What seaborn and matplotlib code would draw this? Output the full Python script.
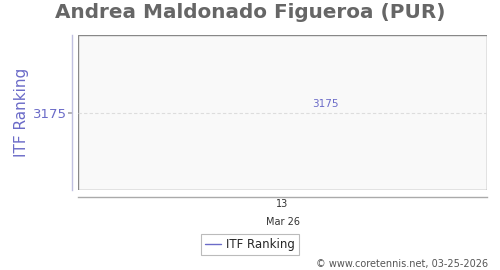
import matplotlib
matplotlib.use("Agg")
import matplotlib.pyplot as plt
import seaborn as sns
import pandas as pd
from matplotlib.patches import Rectangle
from matplotlib.lines import Line2D

dates = ["2026-03-13"]
ranking = [3175]
x_tick_labels = ["13\n\nMar 26"]
series_name = "ITF Ranking"
title = "Andrea Maldonado Figueroa (PUR)"
footer = "© www.coretennis.net, 03-25-2026"

df = pd.DataFrame({"date": pd.to_datetime(dates), "rank": ranking})

sns.set_theme(style="white")
plt.rcParams['font.family'] = ['DejaVu Sans']

fig = plt.figure(figsize=(5, 2.7), dpi=100)
ax = fig.add_axes([0.156, 0.296, 0.818, 0.574])
ax.set_facecolor("none")
ax.add_patch(Rectangle((0, 0), 1, 1, transform=ax.transAxes, facecolor="#f9f9f9",
                       edgecolor="#888888", linewidth=1, zorder=0))

purple = "#6b6bc8"
sns.lineplot(data=df, x="date", y="rank", ax=ax, color=purple, linewidth=1, legend=False)

d0 = df["date"].iloc[0]
ax.set_xlim(d0 - pd.Timedelta(days=5), d0 + pd.Timedelta(days=5))
ax.set_ylim(ranking[0] - 10, ranking[0] + 10)
ax.set_xticks([d0])
ax.set_xticklabels(x_tick_labels)
ax.set_yticks(ranking)
ax.set_yticklabels([str(v) for v in ranking])

ax.yaxis.grid(True, color="#dddddd", linestyle=(0, (3, 2)), linewidth=0.8)
ax.xaxis.grid(False)

for s in ["top", "right"]:
    ax.spines[s].set_visible(False)
ax.spines["left"].set_position(("outward", 4))
ax.spines["bottom"].set_position(("outward", 5))
ax.spines["left"].set_color("#c0c0e0")
ax.spines["bottom"].set_color("#aaaaaa")
ax.spines["left"].set_linewidth(1)
ax.spines["bottom"].set_linewidth(1)

ax.tick_params(axis="y", length=3, color="#aaaaaa", labelsize=9.5, labelcolor=purple, pad=1, left=True)
ax.tick_params(axis="x", length=0, labelsize=7, labelcolor="#333333", pad=1.5, bottom=True)
for lab in ax.get_xticklabels():
    lab.set_linespacing(0.85)

ax.set_xlabel("")
ax.set_ylabel(series_name, fontsize=11, color=purple, labelpad=3)

ax.annotate(str(ranking[0]), xy=(d0, ranking[0]), xytext=(31, 6.5), textcoords="offset points",
            ha="center", va="center", fontsize=7.5, color=purple)

fig.text(0.5, 0.955, title, ha="center", va="center", fontsize=14.4,
         fontweight="bold", color="#666666")

handles = [Line2D([0], [0], color=purple, linewidth=1)]
leg = fig.legend(handles, [series_name], loc="center", bbox_to_anchor=(0.5, 0.094),
                 fontsize=8.5, frameon=True, fancybox=False, handlelength=1.4,
                 handletextpad=0.4, borderpad=0.35, borderaxespad=0)
leg.get_frame().set_edgecolor("#aaaaaa")
leg.get_frame().set_linewidth(0.8)

fig.text(0.976, 0.022, footer, ha="right", va="center", fontsize=7, color="#555555")

fig.savefig("out.png", dpi=100)
